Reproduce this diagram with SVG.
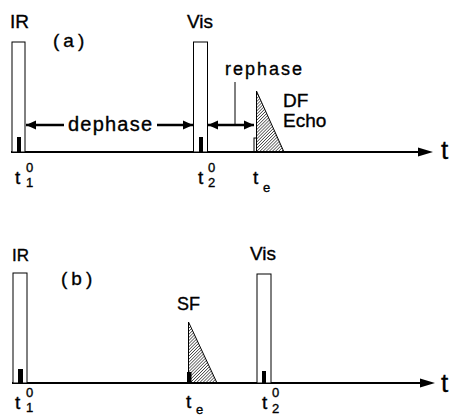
<svg xmlns="http://www.w3.org/2000/svg" width="453" height="417" viewBox="0 0 453 417">
<style>
text{font-family:"Liberation Sans",Arial,sans-serif;fill:#000;stroke:#000;stroke-width:0.35}
.lbl{font-size:19px}
.big{font-size:26px}
.sm{font-size:13px}
.pulse{fill:#fff;stroke:#000;stroke-width:1}
.bar{fill:#000}
.axis{stroke:#000;stroke-width:2;fill:none}
.arr{stroke:#000;stroke-width:2.5;fill:none}
.echo{fill:url(#hatch);stroke:#000;stroke-width:1}
</style>
<defs>
<pattern id="hatch" width="2.2" height="2.2" patternUnits="userSpaceOnUse" patternTransform="rotate(45)">
<line x1="0" y1="0" x2="0" y2="2.2" stroke="#000" stroke-width="1.1"/>
</pattern>
<marker id="ah" markerWidth="11" markerHeight="10" refX="10" refY="5" orient="auto-start-reverse" markerUnits="userSpaceOnUse">
<path d="M0,0.5 L10,5 L0,9.5 Z" fill="#000"/>
</marker>
</defs>

<g id="panel-a">
<g id="a-axis"><line class="axis" x1="11" y1="152" x2="420" y2="152"/><path d="M418,147.5 L433,152 L418,156.5 Z"/><text class="big" x="441" y="159">t</text></g>
<g id="a-ir"><rect class="pulse" x="12" y="42" width="13" height="110"/><rect class="bar" x="17" y="137" width="4" height="15"/><text class="lbl" x="10" y="28">IR</text></g>
<g id="a-vis"><rect class="pulse" x="193.5" y="42" width="14" height="110"/><rect class="bar" x="199" y="137" width="4" height="15"/><text class="lbl" x="187" y="28">Vis</text></g>
<g id="a-echo"><rect x="254" y="138" width="2.5" height="14" fill="none" stroke="#000" stroke-width="1"/><polygon class="echo" points="256.5,91 256.5,152 284,152"/><text class="lbl" x="283" y="107">DF</text><text class="lbl" x="283" y="127">Echo</text></g>
<text class="lbl" x="53" y="47" letter-spacing="4">(a)</text>
<g id="a-labels">
<text class="lbl" x="15" y="184">t</text><text class="sm" x="26" y="172">0</text><text class="sm" x="26" y="187">1</text>
<text class="lbl" x="198" y="184">t</text><text class="sm" x="208" y="172">0</text><text class="sm" x="208" y="187">2</text>
<text class="lbl" x="253" y="184">t</text><text class="sm" x="263" y="192">e</text>
</g>
<g id="a-connectors">
<line class="arr" x1="26" y1="125" x2="64" y2="125" marker-start="url(#ah)"/>
<line class="arr" x1="157" y1="125" x2="193" y2="125" marker-end="url(#ah)"/>
<text x="68" y="131" font-size="20" textLength="84" lengthAdjust="spacing">dephase</text>
<line class="arr" x1="208" y1="125" x2="254" y2="125" marker-start="url(#ah)" marker-end="url(#ah)"/>
<line x1="235" y1="82" x2="235" y2="124" stroke="#000" stroke-width="1"/>
<text x="225" y="75" font-size="18" textLength="77" lengthAdjust="spacing">rephase</text>
</g>
</g>

<g id="panel-b">
<g id="b-axis"><line class="axis" x1="12" y1="383" x2="422" y2="383"/><path d="M420,378.5 L435,383 L420,387.5 Z"/><text class="big" x="441" y="392">t</text></g>
<g id="b-ir"><rect class="pulse" x="13" y="273" width="14" height="110"/><rect class="bar" x="18" y="369" width="5" height="14"/><text x="12" y="261" font-size="17">IR</text></g>
<g id="b-sf"><polygon class="echo" points="188.5,322 188.5,383 217,383"/><rect class="bar" x="187" y="372" width="4.5" height="11"/><text x="177" y="310" font-size="18">SF</text></g>
<g id="b-vis"><rect class="pulse" x="257" y="274" width="14" height="109"/><rect class="bar" x="262" y="371" width="4" height="12"/><text class="lbl" x="250" y="260">Vis</text></g>
<text class="lbl" x="61" y="285" letter-spacing="4">(b)</text>
<g id="b-labels">
<text class="lbl" x="15" y="409">t</text><text class="sm" x="26" y="397">0</text><text class="sm" x="26" y="412">1</text>
<text class="lbl" x="186" y="408">t</text><text class="sm" x="196" y="414">e</text>
<text class="lbl" x="262" y="409">t</text><text class="sm" x="272" y="397">0</text><text class="sm" x="272" y="413">2</text>
</g>
</g>
</svg>
